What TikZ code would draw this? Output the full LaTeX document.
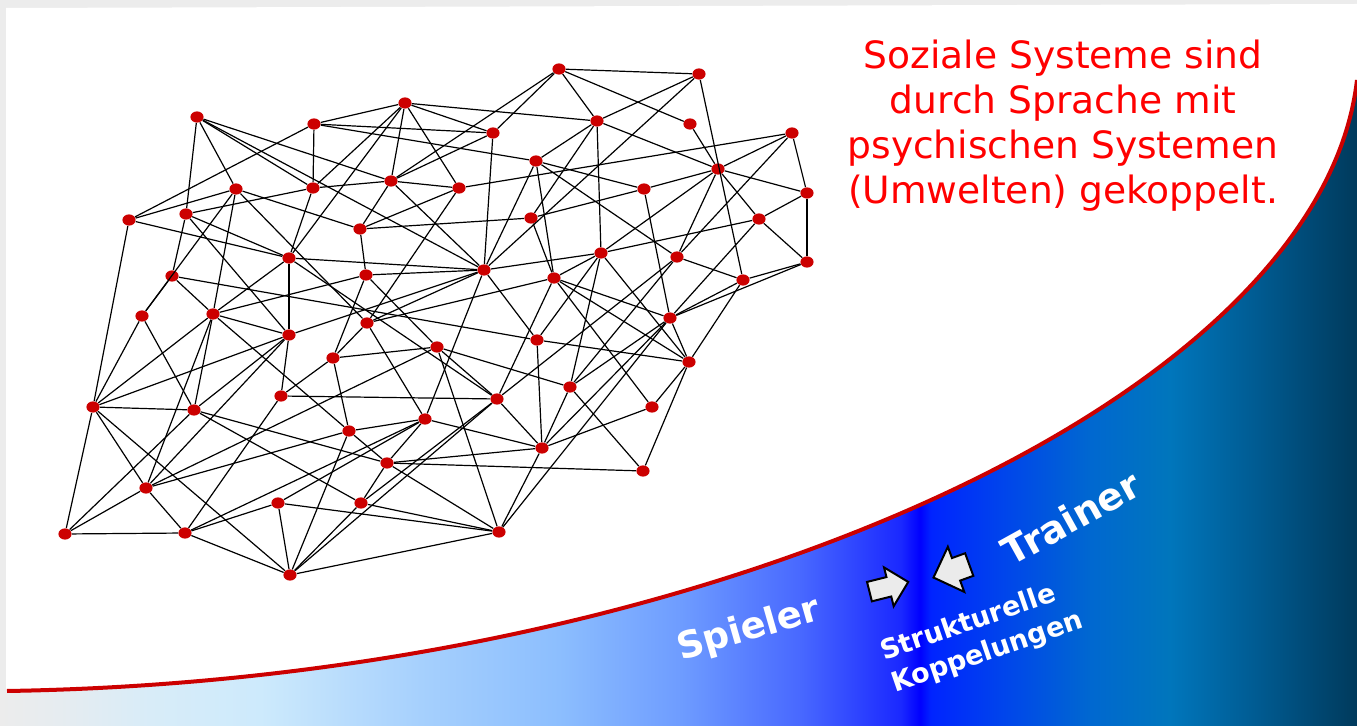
\documentclass[tikz,border=0pt]{standalone}
\usepackage{fontspec}
\setmainfont{DejaVu Sans}
\usetikzlibrary{shapes.geometric,shapes.arrows}
\definecolor{dotred}{HTML}{CC0000}
\definecolor{curvered}{HTML}{CC0000}
\definecolor{framegray}{HTML}{ECECEC}
\definecolor{arrowgray}{HTML}{EBEBEB}
\definecolor{bandA}{HTML}{ECECEC}
\definecolor{bandB}{HTML}{E6ECF0}
\definecolor{bandC}{HTML}{D8ECF8}
\definecolor{bandD}{HTML}{CDEAFC}
\definecolor{bandE}{HTML}{A6D0FD}
\definecolor{bandF}{HTML}{8CBEFE}
\definecolor{bandG}{HTML}{6E9CFF}
\definecolor{bandH}{HTML}{4868FF}
\definecolor{bandI}{HTML}{1A28FF}
\definecolor{bandJ}{HTML}{0000FF}
\definecolor{bandK}{HTML}{0024FF}
\definecolor{bandL}{HTML}{0044EC}
\definecolor{bandM}{HTML}{0068D0}
\definecolor{bandN}{HTML}{0076BC}
\definecolor{bandO}{HTML}{005A90}
\definecolor{bandP}{HTML}{003A5C}
\pgfdeclarehorizontalshading{sportband}{100bp}{color(0bp)=(bandA); color(25bp)=(bandA);
  color(27.2bp)=(bandB); color(30.5bp)=(bandC); color(34.6bp)=(bandD); color(40.5bp)=(bandE);
  color(45.6bp)=(bandF); color(50.1bp)=(bandG); color(54.5bp)=(bandH); color(58.2bp)=(bandI);
  color(58.9bp)=(bandJ); color(59.3bp)=(bandK); color(61.9bp)=(bandL); color(65.2bp)=(bandM);
  color(68.1bp)=(bandN); color(71.4bp)=(bandO); color(75bp)=(bandP); color(100bp)=(bandP)}
\begin{document}
\begin{tikzpicture}[x=0.5pt,y=-0.5pt,
  dot/.style={ellipse,fill=dotred,inner sep=0pt,minimum width=6.6pt,minimum height=5.6pt},
  link/.style={line width=0.6pt,black},
  blockarrow/.style={single arrow,draw=black,line width=1pt,fill=arrowgray,single arrow head extend=5pt,inner sep=4.5pt,minimum height=20pt}]
\useasboundingbox (0,0) rectangle (1357,726);
% slide
\fill[framegray] (0,0) rectangle (1357,726);
\fill[white] (6,8) -- (1357,4) -- (1357,726) -- (6,726) -- cycle;
\shade[shading=sportband] (0,691) -- (7,691) .. controls (700,680) and (1320,400) .. (1357,80) -- (1357,726) -- (0,726) -- cycle;
\draw[curvered,line width=2pt] (7,691) .. controls (700,680) and (1320,400) .. (1357,80);
% network
\node[dot] (k1) at (559,69) {};
\node[dot] (k2) at (699,74) {};
\node[dot] (k3) at (197,117) {};
\node[dot] (k4) at (314,124) {};
\node[dot] (k5) at (405,103) {};
\node[dot] (k6) at (493,133) {};
\node[dot] (k7) at (597,121) {};
\node[dot] (k8) at (690,124) {};
\node[dot] (k9) at (792,133) {};
\node[dot] (k10) at (536,161) {};
\node[dot] (k11) at (718,169) {};
\node[dot] (k12) at (236,189) {};
\node[dot] (k13) at (313,188) {};
\node[dot] (k14) at (391,181) {};
\node[dot] (k15) at (459,188) {};
\node[dot] (k16) at (644,189) {};
\node[dot] (k17) at (807,193) {};
\node[dot] (k18) at (129,220) {};
\node[dot] (k19) at (186,214) {};
\node[dot] (k20) at (360,229) {};
\node[dot] (k21) at (531,218) {};
\node[dot] (k22) at (759,219) {};
\node[dot] (k23) at (289,258) {};
\node[dot] (k24) at (601,253) {};
\node[dot] (k25) at (677,257) {};
\node[dot] (k26) at (807,262) {};
\node[dot] (k27) at (172,276) {};
\node[dot] (k28) at (366,275) {};
\node[dot] (k29) at (484,270) {};
\node[dot] (k30) at (554,278) {};
\node[dot] (k31) at (743,280) {};
\node[dot] (k32) at (142,316) {};
\node[dot] (k33) at (213,314) {};
\node[dot] (k34) at (289,335) {};
\node[dot] (k35) at (367,323) {};
\node[dot] (k36) at (670,318) {};
\node[dot] (k37) at (437,347) {};
\node[dot] (k38) at (333,358) {};
\node[dot] (k39) at (537,340) {};
\node[dot] (k40) at (689,362) {};
\node[dot] (k41) at (93,407) {};
\node[dot] (k42) at (194,410) {};
\node[dot] (k43) at (281,396) {};
\node[dot] (k44) at (497,399) {};
\node[dot] (k45) at (570,387) {};
\node[dot] (k46) at (652,407) {};
\node[dot] (k47) at (349,431) {};
\node[dot] (k48) at (425,419) {};
\node[dot] (k49) at (542,448) {};
\node[dot] (k50) at (387,463) {};
\node[dot] (k51) at (643,471) {};
\node[dot] (k52) at (146,488) {};
\node[dot] (k53) at (278,503) {};
\node[dot] (k54) at (361,503) {};
\node[dot] (k55) at (65,534) {};
\node[dot] (k56) at (185,533) {};
\node[dot] (k57) at (499,532) {};
\node[dot] (k58) at (290,575) {};
\draw[link] (k1) edge (k2) edge (k6) edge (k7) edge (k8) edge (k14);
\draw[link] (k2) edge (k7) edge (k29) edge (k31);
\draw[link] (k3) edge (k12) edge (k13) edge (k14) edge (k19) edge (k29);
\draw[link] (k4) edge (k5) edge (k6) edge (k10) edge (k13) edge (k18);
\draw[link] (k5) edge (k6) edge (k7) edge (k13) edge (k14) edge (k15) edge (k23);
\draw[link] (k6) edge (k14) edge (k29);
\draw[link] (k7) edge (k10) edge (k11) edge (k21) edge (k24);
\draw[link] (k8) edge (k11);
\draw[link] (k9) edge (k11) edge (k15) edge (k17) edge (k25);
\draw[link] (k10) edge (k16) edge (k25) edge (k29) edge (k30);
\draw[link] (k11) edge (k16) edge (k17) edge (k22) edge (k24) edge (k25);
\draw[link] (k12) edge (k18) edge (k20) edge (k32) edge (k33) edge (k35);
\draw[link] (k13) edge (k14) edge (k19) edge (k23);
\draw[link] (k14) edge (k15) edge (k20) edge (k29);
\draw[link] (k15) edge (k20) edge (k35);
\draw[link] (k16) edge (k21) edge (k36);
\draw[link] (k17) edge (k22) edge (k26);
\draw[link] (k18) edge (k23) edge (k41);
\draw[link] (k19) edge (k23) edge (k27) edge (k34);
\draw[link] (k20) edge (k21) edge (k28);
\draw[link] (k21) edge (k30);
\draw[link] (k22) edge (k24) edge (k26) edge (k36);
\draw[link] (k23) edge (k29) edge (k33) edge (k34) edge (k44);
\draw[link] (k24) edge (k29) edge (k30) edge (k39) edge (k40) edge (k45);
\draw[link] (k25) edge (k31) edge (k44) edge (k45);
\draw[link] (k26) edge (k31) edge (k36);
\draw[link] (k27) edge (k32) edge (k33) edge (k39);
\draw[link] (k28) edge (k29) edge (k33) edge (k37) edge (k38);
\draw[link] (k29) edge (k34) edge (k35) edge (k39) edge (k48);
\draw[link] (k30) edge (k35) edge (k36) edge (k40) edge (k44) edge (k46);
\draw[link] (k31) edge (k36) edge (k40);
\draw[link] (k32) edge (k41) edge (k42);
\draw[link] (k33) edge (k34) edge (k41) edge (k42) edge (k47) edge (k52);
\draw[link] (k34) edge (k41) edge (k42) edge (k43) edge (k52);
\draw[link] (k35) edge (k38) edge (k48);
\draw[link] (k36) edge (k40) edge (k45) edge (k49) edge (k57);
\draw[link] (k37) edge (k38) edge (k44) edge (k45) edge (k52) edge (k57);
\draw[link] (k38) edge (k43) edge (k47);
\draw[link] (k39) edge (k40) edge (k49);
\draw[link] (k40) edge (k46) edge (k51);
\draw[link] (k41) edge (k42) edge (k52) edge (k55) edge (k58);
\draw[link] (k42) edge (k50) edge (k54) edge (k55);
\draw[link] (k43) edge (k44) edge (k56);
\draw[link] (k44) edge (k49) edge (k54) edge (k58);
\draw[link] (k45) edge (k49) edge (k51);
\draw[link] (k46) edge (k49);
\draw[link] (k47) edge (k48) edge (k50) edge (k52) edge (k58);
\draw[link] (k48) edge (k49) edge (k50) edge (k53) edge (k56);
\draw[link] (k49) edge (k50) edge (k57);
\draw[link] (k50) edge (k51) edge (k54) edge (k57);
\draw[link] (k52) edge (k55) edge (k56);
\draw[link] (k53) edge (k56) edge (k57) edge (k58);
\draw[link] (k54) edge (k57) edge (k58);
\draw[link] (k55) edge (k56);
\draw[link] (k56) edge (k58);
\draw[link] (k57) edge (k58);
% texts
\node[text=red,font=\fontsize{18.8}{22.5}\selectfont,align=center] (claim) at (1063,126)
  {Soziale Systeme sind\\durch Sprache mit\\psychischen Systemen\\(Umwelten) gekoppelt.};
\node[white,font=\bfseries\fontsize{18.5}{22}\selectfont,rotate=16] (spieler) at (749,630) {Spieler};
\node[white,font=\bfseries\fontsize{19}{22}\selectfont,rotate=29] (trainer) at (1071,518) {Trainer};
\node[white,font=\bfseries\fontsize{13.5}{17}\selectfont,align=left,rotate=19] (kopplung) at (982,637)
  {Strukturelle\\Koppelungen};
% arrows
\node[blockarrow,rotate=14] (pfeilA) at (884,588) {};
\node[blockarrow,rotate=200,inner sep=5.5pt,single arrow head extend=6pt,minimum height=19pt] (pfeilB) at (957,569) {};
\end{tikzpicture}
\end{document}
